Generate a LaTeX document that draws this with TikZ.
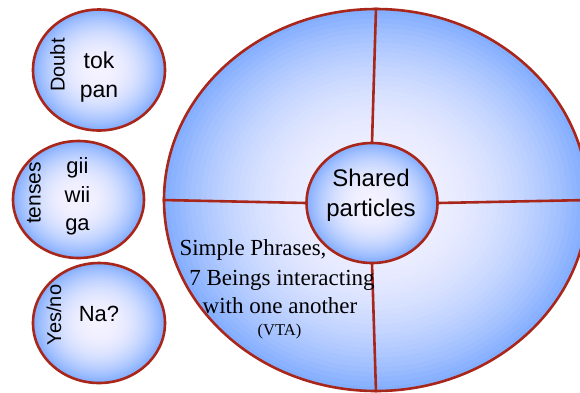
\documentclass[tikz,border=0pt]{standalone}
\usepackage{fontspec}
\setmainfont{Liberation Serif}
\setsansfont{Liberation Sans}
\usetikzlibrary{shapes.geometric}
\definecolor{edgered}{HTML}{A8261A}
\definecolor{ballin}{HTML}{F4F2FF}
\definecolor{ballout}{HTML}{84AEFF}
\newcommand{\gradball}[4]{%
  \foreach \i in {40,39,...,1}{%
    \pgfmathsetmacro{\rr}{\i/40}%
    \pgfmathsetmacro{\pp}{100*(\rr)^2.4}%
    \fill[ballout!\pp!ballin] (#1,#2) ellipse [x radius={\rr*#3}, y radius={\rr*#4}];
  }%
}
\begin{document}
\begin{tikzpicture}[x=1pt,y=-1pt,
  ball/.style={ellipse, draw=edgered, line width=2.6pt, inner sep=0pt},
  divider/.style={draw=edgered, line width=2.6pt},
  sans/.style={font=\sffamily\fontsize{23}{23}\selectfont, inner sep=0pt},
  side/.style={font=\sffamily\fontsize{20}{20}\selectfont, inner sep=0pt, rotate=90},
  serif/.style={font=\fontsize{23}{23}\selectfont, inner sep=0pt}]
\useasboundingbox (0,0) rectangle (580,392);
% big circle and dividers
\gradball{376}{200}{212}{191}
\node[ball, minimum width=424pt, minimum height=382pt] (big) at (376,200) {};
\node[ellipse, minimum width=131pt, minimum height=120pt, inner sep=0pt] (innerpos) at (372,203) {};
\draw[divider] (big.north) -- (innerpos.north);
\draw[divider] (innerpos.south) -- (big.south);
\draw[divider] (big.west) -- (innerpos.west);
\draw[divider] (innerpos.east) -- (big.east);
\gradball{372}{203}{65.5}{60}
\node[ball, minimum width=131pt, minimum height=120pt] (inner) at (372,203) {};
% small circles
\gradball{99}{70}{66}{60.5}
\node[ball, minimum width=132pt, minimum height=121pt] (c1) at (99,70) {};
\gradball{78.5}{199.5}{65.5}{58.5}
\node[ball, minimum width=131pt, minimum height=117pt] (c2) at (78.5,199.5) {};
\gradball{99}{323}{66}{60}
\node[ball, minimum width=132pt, minimum height=120pt] (c3) at (99,323) {};
% texts circle 1
\node[side] (doubt) at (57.5,65) {Doubt};
\node[sans, anchor=base] (tok) at (99,68) {tok};
\node[sans, anchor=base] (pan) at (99,97) {pan};
% circle 2
\node[side, font=\sffamily\fontsize{21}{21}\selectfont] (tenses) at (34,193) {tenses};
\node[sans, anchor=base, font=\sffamily\fontsize{22}{22}\selectfont] (gii) at (77.5,173) {gii};
\node[sans, anchor=base, font=\sffamily\fontsize{22}{22}\selectfont] (wii) at (77.5,202) {wii};
\node[sans, anchor=base, font=\sffamily\fontsize{22}{22}\selectfont] (ga) at (77.5,230) {ga};
% circle 3
\node[side] (yesno) at (54,315) {Yes/no};
\node[sans, anchor=base, font=\sffamily\fontsize{22}{22}\selectfont] (na) at (99,321) {Na?};
% inner circle text
\node[sans, anchor=base, font=\sffamily\fontsize{24}{24}\selectfont] (shared) at (371,186) {Shared};
\node[sans, anchor=base, font=\sffamily\fontsize{24}{24}\selectfont] (particles) at (371,216) {particles};
% serif text
\node[serif, anchor=base] (simple) at (253,255) {Simple Phrases,};
\node[serif, anchor=base] (beings) at (282,285) {7 Beings interacting};
\node[serif, anchor=base] (withone) at (280,313) {with one another};
\node[serif, anchor=base, font=\fontsize{16.5}{16.5}\selectfont] (vta) at (279.5,335) {(VTA)};
\end{tikzpicture}
\end{document}
